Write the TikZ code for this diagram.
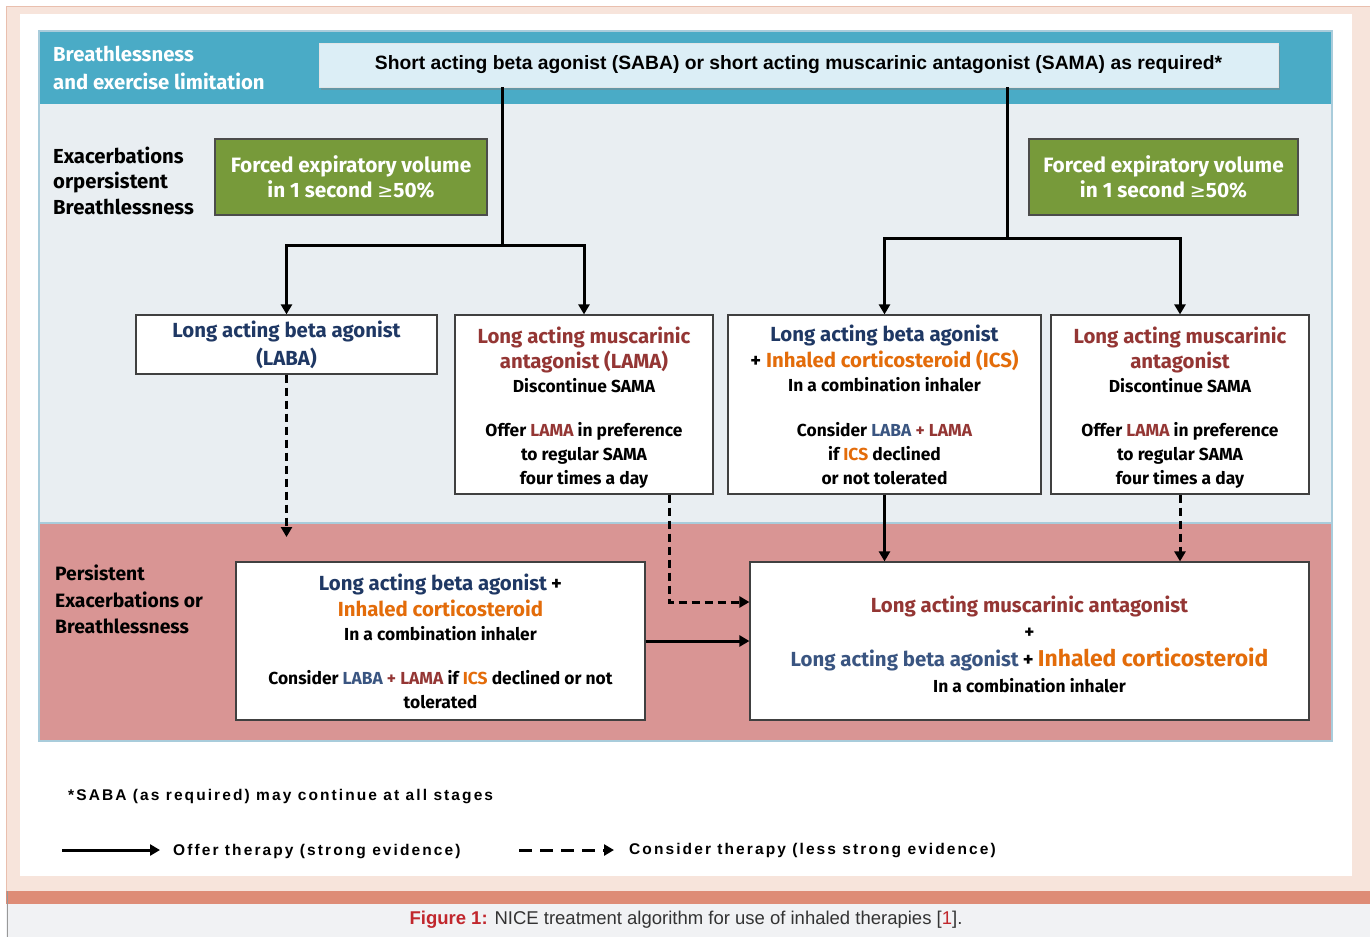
\documentclass[tikz,border=0pt]{standalone}
\usepackage{fontspec}
\setmainfont{Fira Sans}
\newfontfamily\arialf{Liberation Sans}
\newfontfamily\arialsp[LetterSpace=13.5]{Liberation Sans}
\newfontfamily\symf{DejaVu Sans}
\usetikzlibrary{arrows.meta,shadows}

\definecolor{hdrblue}{HTML}{4AABC6}
\definecolor{sabafill}{HTML}{DCEEF6}
\definecolor{lightreg}{HTML}{E9EEF2}
\definecolor{pinkreg}{HTML}{D99594}
\definecolor{olive}{HTML}{779A3A}
\definecolor{navy}{HTML}{1F3864}
\definecolor{navylt}{HTML}{3A5581}
\definecolor{dred}{HTML}{943634}
\definecolor{orng}{HTML}{E36C0A}
\definecolor{peach}{HTML}{F7E4DB}
\definecolor{peachline}{HTML}{E9BFAE}
\definecolor{salmon}{HTML}{DE8C76}
\definecolor{capgray}{HTML}{F1F2F4}
\definecolor{figred}{HTML}{C1272D}
\definecolor{regline}{HTML}{A9CCDB}
\definecolor{captext}{HTML}{333333}

\tikzset{
  box/.style={draw=black!75, line width=1.2pt, fill=white, inner sep=0pt, align=center,
    font=\bfseries\fontsize{17.4}{24}\selectfont},
  greenbox/.style={draw=black!70, line width=1.2pt, fill=olive, inner sep=0pt, align=center,
    text=white, font=\bfseries\fontsize{20.8}{25.5}\selectfont},
  sidelbl/.style={anchor=west, align=left, inner sep=0pt, font=\bfseries\fontsize{20.3}{25.5}\selectfont},
  solidln/.style={line width=3pt},
  sol/.style={line width=3pt, -{Triangle[length=10pt,width=11pt]}},
  dsh/.style={line width=3pt, dash pattern=on 8pt off 5pt, -{Triangle[length=10pt,width=11pt]}}
}
\newcommand{\tl}[2]{{\fontsize{20.4}{25}\selectfont\textcolor{#1}{#2}}}
\newcommand{\topfix}{\rule{0pt}{23pt}}

\begin{document}
\begin{tikzpicture}[x=1pt,y=-1pt]
\useasboundingbox (0,0) rectangle (1370,937);
% page frame
\fill[white] (0,0) rectangle (1370,937);
\filldraw[fill=peach, draw=peachline, line width=0.8pt] (6,6) rectangle (1372,891);
\fill[white] (20,14) rectangle (1352,876);
\fill[salmon] (6,891) rectangle (1370,904);
\fill[capgray] (6,904) rectangle (1370,937);
\draw[black!40, line width=0.8pt] (7,891) -- (7,937);

% regions
\fill[hdrblue] (39,31) rectangle (1332,104);
\fill[lightreg] (39,104) rectangle (1332,523);
\fill[pinkreg] (39,523) rectangle (1332,741);
\draw[regline, line width=1.5pt] (39,31) rectangle (1332,741);
\draw[regline, line width=1.2pt] (39,523) -- (1332,523);

% side labels
\node[sidelbl, text=white, font=\bfseries\fontsize{20.3}{28}\selectfont] (hdrlbl) at (53,68) {Breathlessness\\and exercise limitation};
\node[sidelbl] (exlbl) at (53,180.5) {Exacerbations\\orpersistent\\Breathlessness};
\node[sidelbl, font=\bfseries\fontsize{19.3}{26.5}\selectfont] (perslbl) at (55,599.5) {Persistent\\Exacerbations or\\Breathlessness};

% top SABA box
\node[draw=sabafill!70!black!30, fill=sabafill, minimum width=959pt, minimum height=44pt, inner sep=0pt,
  drop shadow={opacity=0.45, shadow xshift=2pt, shadow yshift=-3pt},
  font=\arialf\bfseries\fontsize{19.3}{22}\selectfont] (saba) at (798.5,65)
  {Short acting beta agonist (SABA) or short acting muscarinic antagonist (SAMA) as required*};

% green boxes
\node[greenbox, minimum width=272pt, minimum height=76pt] (fevl) at (351,177)
  {Forced expiratory volume\\in 1 second {\symf\mdseries\fontsize{19}{20}\selectfont ≥}50\%};
\node[greenbox, minimum width=269pt, minimum height=76pt] (fevr) at (1163.5,177)
  {Forced expiratory volume\\in 1 second {\symf\mdseries\fontsize{19}{20}\selectfont ≥}50\%};

% middle boxes
\node[box, minimum width=301pt, minimum height=59pt] (laba) at (286.5,344.5)
  {\tl{navy}{Long acting beta agonist}\\[4pt]\tl{navy}{(LABA)}};
\node[box, minimum width=258pt, minimum height=179pt] (lama) at (584,404.5)
  {\topfix\tl{dred}{Long acting muscarinic}\\[1pt]\tl{dred}{antagonist (LAMA)}\\Discontinue SAMA\\[20pt]
   Offer \textcolor{dred}{LAMA} in preference\\to regular SAMA\\four times a day};
\node[box, minimum width=313pt, minimum height=179pt] (ics) at (884.5,404.5)
  {\tl{navy}{Long acting beta agonist}\\[2pt]{\fontsize{20.4}{25}\selectfont + \textcolor{orng}{Inhaled corticosteroid (ICS)}}\\In a combination inhaler\\[21pt]
   Consider \textcolor{navylt}{LABA} \textcolor{dred}{+ LAMA}\\if \textcolor{orng}{ICS} declined\\or not tolerated};
\node[box, minimum width=258pt, minimum height=179pt] (lamar) at (1180,404.5)
  {\topfix\tl{dred}{Long acting muscarinic}\\[1pt]\tl{dred}{antagonist}\\Discontinue SAMA\\[20pt]
   Offer \textcolor{dred}{LAMA} in preference\\to regular SAMA\\four times a day};

% bottom boxes
\node[box, minimum width=409pt, minimum height=158pt] (lowl) at (440.5,641)
  {\tl{navy}{Long acting beta agonist} {\fontsize{20.4}{25}\selectfont +}\\[2pt]\tl{orng}{Inhaled corticosteroid}\\In a combination inhaler\\[20pt]
   Consider \textcolor{navylt}{LABA} \textcolor{dred}{+ LAMA} if \textcolor{orng}{ICS} declined or not\\tolerated};
\node[box, minimum width=559pt, minimum height=158pt, font=\bfseries\fontsize{17.4}{26}\selectfont] (big) at (1029.5,641)
  {\topfix\tl{dred}{Long acting muscarinic antagonist}\\{\fontsize{19}{26}\selectfont +}\\[2pt]
   \tl{navylt}{Long acting beta agonist} {\fontsize{20.4}{25}\selectfont +} {\fontsize{22.9}{25}\selectfont\textcolor{orng}{Inhaled corticosteroid}}\\In a combination inhaler};

% connectors
\coordinate (jl) at (502,245);
\coordinate (jr) at (1007,238);
\coordinate (labaend) at (286.5,537);
\draw[solidln] (saba.south -| jl) -- (jl);
\draw[sol] ([xshift=1.5pt]jl) -| (laba.north);
\draw[sol] ([xshift=-1.5pt]jl) -| (lama.north);
\draw[solidln] (saba.south -| jr) -- (jr);
\draw[sol] ([xshift=1.5pt]jr) -| (ics.north);
\draw[sol] ([xshift=-1.5pt]jr) -| (lamar.north);

\draw[dsh] (laba.south) -- (labaend);
\draw[dsh] ([xshift=85pt]lama.south) |- ([yshift=39pt]big.west);
\draw[sol] (ics.south) -- (ics.south |- big.north);
\draw[dsh] (lamar.south) -- (lamar.south |- big.north);
\draw[sol] (lowl.east) -- (big.west);

% footnote and legend
\node[anchor=west, inner sep=0pt, font=\arialsp\bfseries\fontsize{15.5}{18}\selectfont] (note) at (68,797)
  {*SABA (as required) may continue at all stages};
\coordinate (lsa) at (62,850);
\coordinate (lsb) at (160,850);
\coordinate (lda) at (519,850);
\coordinate (ldb) at (614,850);
\draw[sol] (lsa) -- (lsb);
\draw[dsh, dash pattern=on 13pt off 8pt] (lda) -- (ldb);
\node[anchor=west, inner sep=0pt, font=\arialsp\bfseries\fontsize{15.5}{18}\selectfont] (leg1) at (173,852)
  {Offer therapy (strong evidence)};
\node[anchor=west, inner sep=0pt, font=\arialsp\bfseries\fontsize{15.5}{18}\selectfont] (leg2) at (629,851)
  {Consider therapy (less strong evidence)};

% caption
\node[inner sep=0pt, text=captext, font=\arialf\fontsize{18.5}{20}\selectfont] (cap) at (686,920)
  {\textcolor{figred}{\bfseries Figure 1:} NICE treatment algorithm for use of inhaled therapies [\textcolor{figred}{1}].};
\end{tikzpicture}
\end{document}
